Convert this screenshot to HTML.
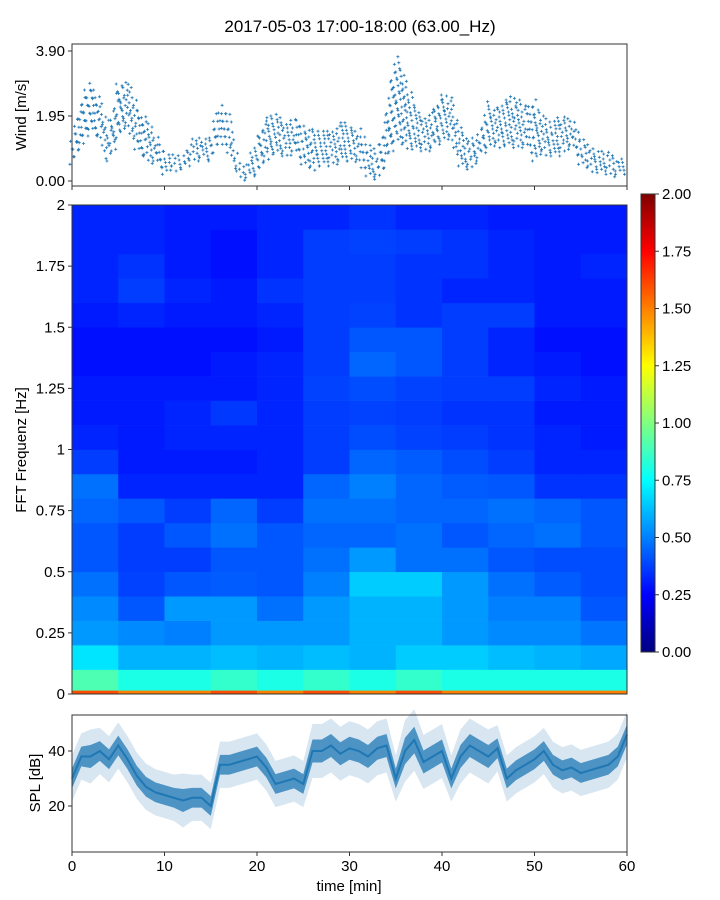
<!DOCTYPE html>
<html><head><meta charset="utf-8">
<style>
html,body{margin:0;padding:0;background:#fff;}
svg{display:block;font-family:"Liberation Sans","DejaVu Sans",sans-serif;}
</style></head>
<body>
<svg id="chart" width="720" height="900" viewBox="0 0 720 900" xmlns="http://www.w3.org/2000/svg">
<text x="360" y="32" text-anchor="middle" font-size="17">2017-05-03 17:00-18:00 (63.00_Hz)</text>
<g id="wind"></g>
<g id="spec"></g>
<g id="cbar"></g>
<g id="spl"></g>
<text transform="translate(26,115) rotate(-90)" text-anchor="middle" font-size="15">Wind [m/s]</text>
<text transform="translate(26,450) rotate(-90)" text-anchor="middle" font-size="15">FFT Frequenz [Hz]</text>
<text transform="translate(40,783) rotate(-90)" text-anchor="middle" font-size="15">SPL [dB]</text>
<text x="349" y="891" text-anchor="middle" font-size="15">time [min]</text>
</svg>
<script>
const minutes = [0,1,2,3,4,5,6,7,8,9,10,11,12,13,14,15,16,17,18,19,20,21,22,23,24,25,26,27,28,29,30,31,32,33,34,35,36,37,38,39,40,41,42,43,44,45,46,47,48,49,50,51,52,53,54,55,56,57,58,59,60];
const windLo = [0.5,1.0,1.5,1.2,0.5,1.3,1.6,0.9,0.6,0.5,0.2,0.3,0.3,0.6,0.6,0.6,1.2,0.8,0.1,0.0,0.2,0.6,0.8,0.7,0.8,0.5,0.3,0.4,0.5,0.5,0.6,0.5,0.1,0.0,0.5,1.2,1.0,0.9,0.9,0.9,1.2,1.2,0.4,0.3,0.6,1.0,1.0,1.0,1.0,1.0,0.6,0.8,0.7,0.8,1.0,0.5,0.3,0.2,0.2,0.1,0.2];
const windHi = [1.3,2.5,3.0,2.5,1.6,3.0,3.0,2.3,1.9,1.5,0.9,0.8,0.7,1.3,1.3,1.3,2.3,2.0,0.6,0.5,1.4,1.9,2.1,1.8,1.9,1.7,1.5,1.5,1.6,1.8,1.7,1.6,1.2,0.8,2.2,3.8,3.2,2.3,2.0,2.2,2.6,2.5,1.6,1.2,1.4,2.4,2.2,2.6,2.5,2.3,2.5,1.9,1.8,2.0,1.9,1.4,1.0,0.9,1.0,0.6,0.8];
const windTicks = ["0.00","1.95","3.90"];
const splMid = [30,38,38,40,37,42,37,31,27,25,24,23,22,23,23,20,35,35,36,37,38,34,28,29,30,28,40,40,42,39,41,40,38,41,42,30,40,44,36,38,40,30,38,42,40,38,41,30,33,35,37,40,35,33,34,32,33,34,35,38,46];
const splSpread = [6,6,7,6,6,6,6,6,6,6,6,6,7,6,6,6,6,6,6,6,6,6,6,6,6,6,7,7,7,7,7,7,7,7,7,6,8,8,7,7,7,6,7,7,7,7,6,6,6,6,6,6,6,6,6,6,6,6,6,6,6];
const splTicks = [20,40];
const xTicks = [0,10,20,30,40,50,60];
const freqEdges = [0,0.015,0.1,0.2,0.3,0.4,0.5,0.6,0.7,0.8,0.9,1.0,1.1,1.2,1.3,1.4,1.5,1.6,1.7,1.8,1.9,2.0];
const timeEdges = [0,5,10,15,20,25,30,35,40,45,50,55,60];
const freqTicks = [0,0.25,0.5,0.75,1,1.25,1.5,1.75,2];
const freqTickLabels = ["0","0.25","0.5","0.75","1","1.25","1.5","1.75","2"];
const cbarTicks = ["0.00","0.25","0.50","0.75","1.00","1.25","1.50","1.75","2.00"];
// rows from lowest frequency band upward
const specVals = [
 [1.6,1.5,1.5,1.6,1.5,1.6,1.5,1.6,1.5,1.5,1.5,1.5],
 [0.9,0.8,0.8,0.85,0.8,0.85,0.8,0.85,0.8,0.8,0.8,0.8],
 [0.7,0.6,0.6,0.62,0.6,0.62,0.6,0.65,0.65,0.62,0.6,0.58],
 [0.55,0.52,0.5,0.55,0.55,0.55,0.6,0.6,0.55,0.52,0.52,0.48],
 [0.52,0.42,0.55,0.55,0.47,0.55,0.6,0.6,0.55,0.5,0.5,0.42],
 [0.47,0.38,0.42,0.43,0.42,0.5,0.65,0.65,0.55,0.47,0.43,0.4],
 [0.42,0.37,0.37,0.42,0.42,0.47,0.55,0.47,0.47,0.42,0.4,0.4],
 [0.42,0.37,0.42,0.47,0.42,0.45,0.45,0.47,0.42,0.45,0.47,0.42],
 [0.45,0.42,0.37,0.45,0.37,0.47,0.47,0.45,0.45,0.47,0.45,0.42],
 [0.47,0.32,0.32,0.32,0.32,0.45,0.5,0.45,0.43,0.42,0.35,0.35],
 [0.37,0.3,0.3,0.3,0.32,0.37,0.45,0.43,0.4,0.37,0.32,0.32],
 [0.32,0.3,0.32,0.32,0.32,0.37,0.4,0.38,0.37,0.35,0.32,0.3],
 [0.3,0.3,0.32,0.36,0.32,0.37,0.38,0.37,0.35,0.35,0.3,0.3],
 [0.3,0.3,0.3,0.3,0.32,0.38,0.4,0.38,0.37,0.37,0.32,0.3],
 [0.28,0.28,0.28,0.3,0.32,0.37,0.45,0.42,0.37,0.32,0.3,0.28],
 [0.28,0.28,0.28,0.28,0.3,0.37,0.42,0.42,0.37,0.32,0.28,0.28],
 [0.3,0.32,0.3,0.3,0.32,0.37,0.38,0.35,0.37,0.37,0.3,0.3],
 [0.32,0.37,0.32,0.3,0.35,0.37,0.37,0.35,0.32,0.32,0.3,0.3],
 [0.32,0.35,0.3,0.28,0.32,0.37,0.37,0.35,0.35,0.32,0.3,0.32],
 [0.32,0.32,0.3,0.28,0.32,0.37,0.38,0.37,0.35,0.32,0.3,0.3],
 [0.32,0.32,0.3,0.3,0.32,0.32,0.35,0.32,0.32,0.3,0.3,0.3]
];

const NS="http://www.w3.org/2000/svg";
function mk(tag,parent,attrs){const e=document.createElementNS(NS,tag);for(const k in attrs)e.setAttribute(k,attrs[k]);parent.appendChild(e);return e;}
const X0=72,X1=627;
const xs=t=>X0+(t-0)/(60-0)*(X1-X0);
const blue="#1f77b4";

// ---- wind
const W=document.getElementById('wind');
const wy=v=>181-v*(181-51)/3.9;
let wp="";
for(let i=0;i<minutes.length-1;i++){
  for(let k=0;k<4;k++){
    const f=k/4;
    const lo=windLo[i]+(windLo[i+1]-windLo[i])*f;
    const hi=windHi[i]+(windHi[i+1]-windHi[i])*f;
    const off=((k*7+i*3)%5)*0.05;
    for(let v=lo+off,j=0;v<=hi;v+=0.23,j++){
      const x=xs(minutes[i]+f)+((j*5+k*3)%7-3)*0.7,y=wy(v);
      wp+=`M${(x-1.5).toFixed(1)} ${y.toFixed(1)}h3M${x.toFixed(1)} ${(y-1.5).toFixed(1)}v3`;
    }
  }
}
const wpath=mk('path',W,{d:wp,stroke:blue,'stroke-width':0.8,fill:'none'});


const wframe=mk('rect',W,{x:X0,y:44,width:X1-X0,height:142,fill:'none',stroke:'#333','stroke-width':1});


windTicks.forEach(t=>{const y=wy(parseFloat(t));mk('line',W,{x1:X0-4,x2:X0,y1:y,y2:y,stroke:'#333'});
 const tx=mk('text',W,{x:X0-7,y:y+5,'text-anchor':'end','font-size':15});tx.textContent=t;
 
 });
xTicks.forEach(t=>mk('line',W,{x1:xs(t),x2:xs(t),y1:186,y2:190,stroke:'#333'}));

// ---- spectrogram
function jet(v){v=Math.max(0,Math.min(1,v));
 const r=Math.max(0,Math.min(1,1.5-Math.abs(4*v-3))),g=Math.max(0,Math.min(1,1.5-Math.abs(4*v-2))),b=Math.max(0,Math.min(1,1.5-Math.abs(4*v-1)));
 return `rgb(${Math.round(r*255)},${Math.round(g*255)},${Math.round(b*255)})`;}
const S=document.getElementById('spec');
const SY0=694,SY1=205;
const fy=f=>SY0-f/2*(SY0-SY1);
specVals.forEach((row,ri)=>{row.forEach((v,ci)=>{
  const x=xs(timeEdges[ci]),x2=xs(timeEdges[ci+1]);
  const y=fy(freqEdges[ri+1]),y2=fy(freqEdges[ri]);
  const r=mk('rect',S,{x:x.toFixed(2),y:y.toFixed(2),width:(x2-x+0.3).toFixed(2),height:(y2-y+0.3).toFixed(2),fill:jet(v/2)});
  
  
});});
const sframe=mk('rect',S,{x:X0,y:SY1,width:X1-X0,height:SY0-SY1,fill:'none',stroke:'#333'});


freqTicks.forEach((f,i)=>{const y=fy(f);mk('line',S,{x1:X0-4,x2:X0,y1:y,y2:y,stroke:'#333'});
 const tx=mk('text',S,{x:X0-7,y:y+5,'text-anchor':'end','font-size':15});tx.textContent=freqTickLabels[i];
 
 });

// ---- colorbar
const C=document.getElementById('cbar');
const CY0=652,CY1=194;
const defs=mk('defs',C,{});
const lg=mk('linearGradient',defs,{id:'jetg',x1:0,y1:1,x2:0,y2:0});
for(let i=0;i<=16;i++){mk('stop',lg,{offset:i/16,'stop-color':jet(i/16)});}
const cr=mk('rect',C,{x:641,y:CY1,width:14,height:CY0-CY1,fill:'url(#jetg)',stroke:'#333'});


cbarTicks.forEach(t=>{const y=CY0-parseFloat(t)/2*(CY0-CY1);mk('line',C,{x1:655,x2:659,y1:y,y2:y,stroke:'#333'});
 const tx=mk('text',C,{x:662,y:y+5,'font-size':15});tx.textContent=t;
 
 });

// ---- SPL
const P=document.getElementById('spl');
const PY0=852,PY1=715;
const sy=v=>806-(v-20)*(806-751)/20;
function band(k){let top="",bot="";minutes.forEach((m,i)=>{top+=`${xs(m).toFixed(1)},${sy(splMid[i]+splSpread[i]*k).toFixed(1)} `;});
 for(let i=minutes.length-1;i>=0;i--){bot+=`${xs(minutes[i]).toFixed(1)},${sy(splMid[i]-splSpread[i]*k).toFixed(1)} `;}return top+bot;}
const b1=mk('polygon',P,{points:band(1.4),fill:blue,'fill-opacity':0.18});


const b2=mk('polygon',P,{points:band(0.6),fill:blue,'fill-opacity':0.75});


const ln=mk('polyline',P,{points:minutes.map((m,i)=>`${xs(m).toFixed(1)},${sy(splMid[i]).toFixed(1)}`).join(' '),fill:'none',stroke:blue,'stroke-width':2});


const pframe=mk('rect',P,{x:X0,y:PY1,width:X1-X0,height:PY0-PY1,fill:'none',stroke:'#333'});


splTicks.forEach(t=>{const y=sy(t);mk('line',P,{x1:X0-4,x2:X0,y1:y,y2:y,stroke:'#333'});
 const tx=mk('text',P,{x:X0-7,y:y+5,'text-anchor':'end','font-size':15});tx.textContent=t;
 
 });
xTicks.forEach(t=>{const x=xs(t);mk('line',P,{x1:x,x2:x,y1:PY0,y2:PY0+4,stroke:'#333'});
 const tx=mk('text',P,{x:x,y:PY0+19,'text-anchor':'middle','font-size':15});tx.textContent=t;
 
 });
</script>
</body></html>
